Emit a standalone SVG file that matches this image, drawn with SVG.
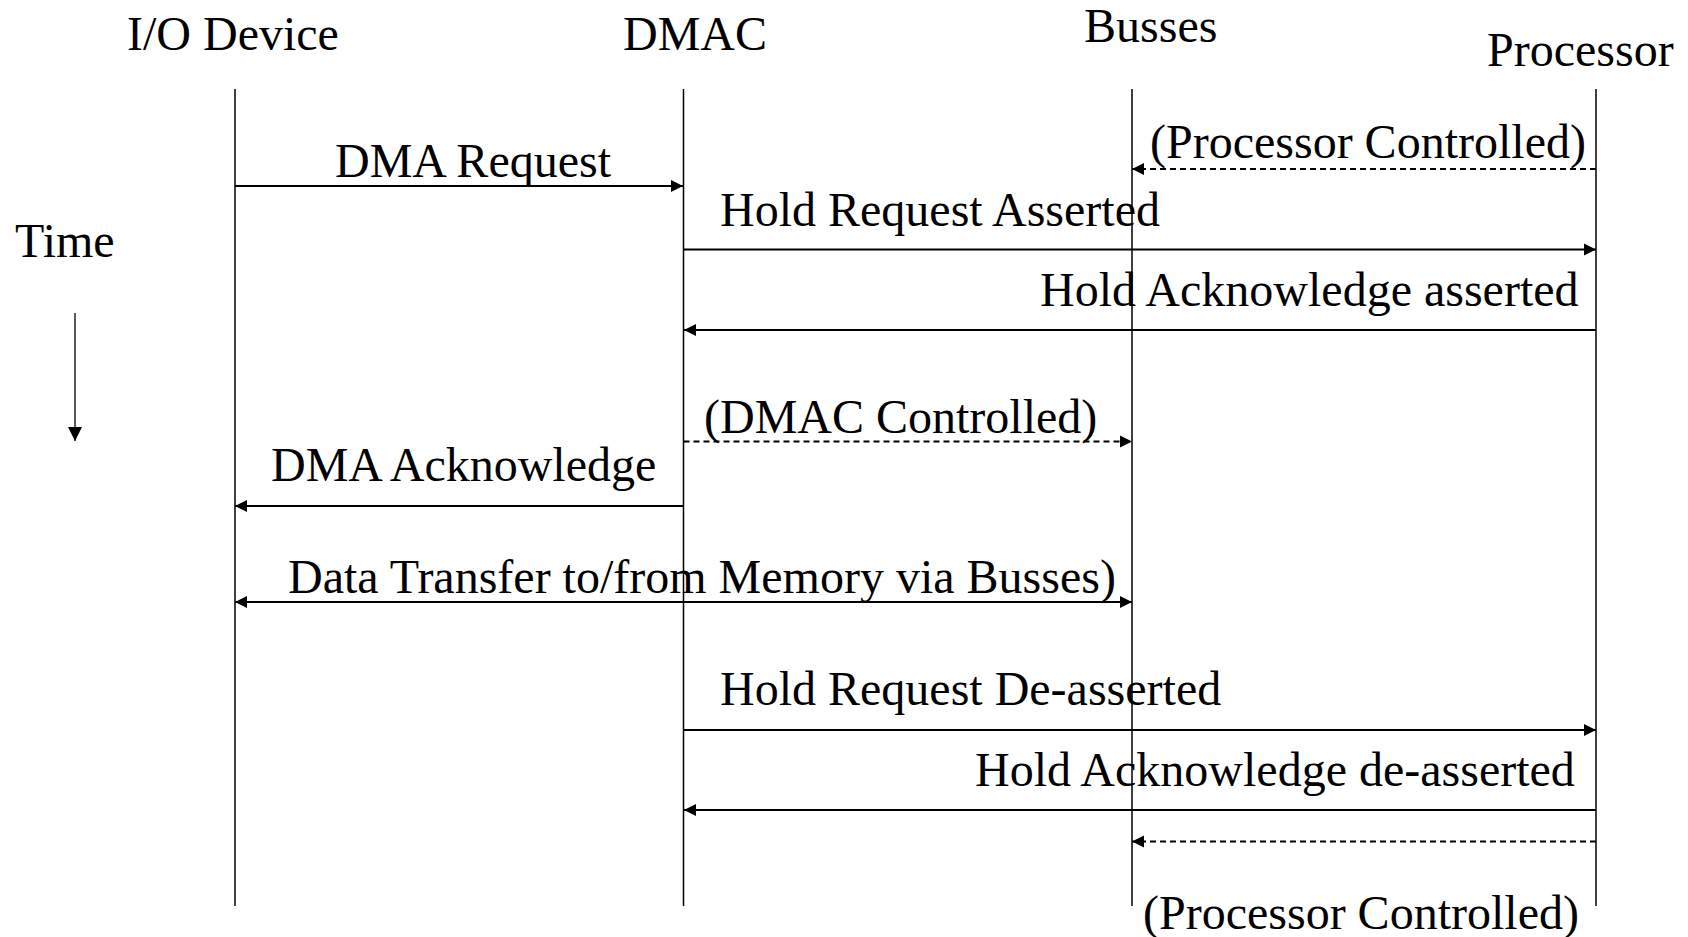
<svg xmlns="http://www.w3.org/2000/svg" width="1688" height="937" viewBox="0 0 1688 937">
<style>
text{font-family:"Liberation Serif","Times New Roman",serif;font-size:48px;fill:#000}
.life{stroke:#000;stroke-width:1.5;fill:none}
.msg{stroke:#000;stroke-width:2;fill:none}
.dash{stroke-dasharray:6 4}
</style>
<defs>
<marker id="ah" viewBox="0 0 10 10" refX="10" refY="5" markerWidth="12" markerHeight="13" markerUnits="userSpaceOnUse" orient="auto-start-reverse">
<path d="M0,0 L10,5 L0,10 Z" fill="#000"/>
</marker>
<marker id="ahT" viewBox="0 0 10 10" refX="10" refY="5" markerWidth="14" markerHeight="15" markerUnits="userSpaceOnUse" orient="auto">
<path d="M0,0 L10,5 L0,10 Z" fill="#000"/>
</marker>
</defs>
<rect width="1688" height="937" fill="#fff"/>
<g id="io-device">
<text x="127" y="50">I/O Device</text>
<line class="life" x1="235" y1="89" x2="235" y2="906"/>
</g>
<g id="dmac">
<text x="623" y="50">DMAC</text>
<line class="life" x1="683.5" y1="89" x2="683.5" y2="906"/>
</g>
<g id="busses">
<text x="1084" y="42">Busses</text>
<line class="life" x1="1132" y1="89" x2="1132" y2="906"/>
</g>
<g id="processor">
<text x="1487" y="66">Processor</text>
<line class="life" x1="1596" y1="89" x2="1596" y2="906"/>
</g>
<g id="time">
<text x="15" y="257">Time</text>
<line stroke="#000" stroke-width="1.3" x1="75" y1="313" x2="75" y2="441" marker-end="url(#ahT)"/>
</g>
<g id="connectors">
<line class="msg" x1="235" y1="186" x2="683" y2="186" marker-end="url(#ah)"/>
<line class="msg dash" x1="1596" y1="169" x2="1132" y2="169" marker-end="url(#ah)"/>
<line class="msg" x1="683.5" y1="249.5" x2="1596" y2="249.5" marker-end="url(#ah)"/>
<line class="msg" x1="1596" y1="330" x2="684" y2="330" marker-end="url(#ah)"/>
<line class="msg dash" x1="683.5" y1="441.5" x2="1132" y2="441.5" marker-end="url(#ah)"/>
<line class="msg" x1="683.5" y1="506" x2="235" y2="506" marker-end="url(#ah)"/>
<line class="msg" x1="235" y1="602" x2="1132" y2="602" marker-start="url(#ah)" marker-end="url(#ah)"/>
<line class="msg" x1="683.5" y1="730" x2="1596" y2="730" marker-end="url(#ah)"/>
<line class="msg" x1="1596" y1="810" x2="684" y2="810" marker-end="url(#ah)"/>
<line class="msg dash" x1="1596" y1="841.5" x2="1132" y2="841.5" marker-end="url(#ah)"/>
</g>
<g id="labels">
<text x="335" y="177">DMA Request</text>
<text x="1150" y="158">(Processor Controlled)</text>
<text x="720" y="226">Hold Request Asserted</text>
<text x="1040" y="306">Hold Acknowledge asserted</text>
<text x="704" y="433">(DMAC Controlled)</text>
<text x="271" y="481">DMA Acknowledge</text>
<text x="288" y="593">Data Transfer to/from Memory via Busses)</text>
<text x="720" y="705">Hold Request De-asserted</text>
<text x="975" y="786">Hold Acknowledge de-asserted</text>
<text x="1143" y="929">(Processor Controlled)</text>
</g>
</svg>
